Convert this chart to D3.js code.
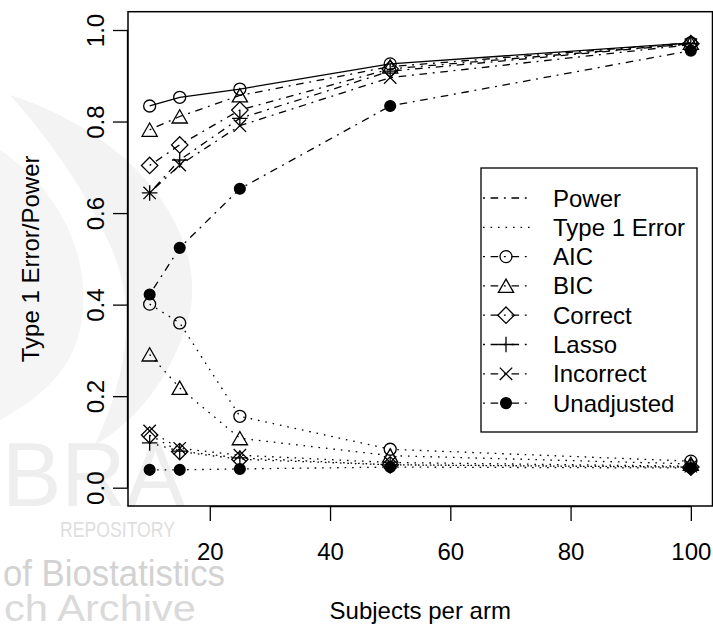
<!DOCTYPE html>
<html>
<head>
<meta charset="utf-8">
<script src="https://cdn.jsdelivr.net/npm/d3@7"></script>
<style>
  html, body { margin: 0; padding: 0; background: #ffffff; }
  svg { display: block; }
  text { font-family: "Liberation Sans", Arial, Helvetica, sans-serif; }
</style>
</head>
<body>
<svg id="chart" width="713" height="626"></svg>
<script>
// Sample sizes per arm
const subjects = [10, 15, 25, 50, 100];

// Power by adjustment method
const powerAIC        = [0.834, 0.853, 0.871, 0.926, 0.972];
const powerBIC        = [0.782, 0.811, 0.857, 0.920, 0.972];
const powerCorrect    = [0.704, 0.749, 0.825, 0.915, 0.970];
const powerLasso      = [0.644, 0.716, 0.807, 0.910, 0.970];
const powerIncorrect  = [0.644, 0.705, 0.791, 0.896, 0.968];
const powerUnadjusted = [0.422, 0.524, 0.653, 0.834, 0.955];

// Type 1 error by adjustment method
const type1AIC        = [0.401, 0.360, 0.156, 0.084, 0.058];
const type1BIC        = [0.291, 0.218, 0.108, 0.070, 0.052];
const type1Correct    = [0.115, 0.079, 0.062, 0.050, 0.045];
const type1Lasso      = [0.098, 0.080, 0.065, 0.050, 0.045];
const type1Incorrect  = [0.124, 0.086, 0.071, 0.055, 0.047];
const type1Unadjusted = [0.039, 0.039, 0.041, 0.045, 0.043];

const methodNames = ["AIC", "BIC", "Correct", "Lasso", "Incorrect", "Unadjusted"];
const methodShapes = ["circle", "triangle", "diamond", "plus", "times", "dot"];
const powerSeries = [powerAIC, powerBIC, powerCorrect, powerLasso, powerIncorrect, powerUnadjusted];
const type1Series = [type1AIC, type1BIC, type1Correct, type1Lasso, type1Incorrect, type1Unadjusted];

const xTicks = [20, 40, 60, 80, 100];
const yTicks = [0, 0.2, 0.4, 0.6, 0.8, 1.0];
const yTickLabels = ["0.0", "0.2", "0.4", "0.6", "0.8", "1.0"];

const legendLabels = ["Power", "Type 1 Error", "AIC", "BIC", "Correct", "Lasso", "Incorrect", "Unadjusted"];

const svg = d3.select("#chart");
const FS = 24;

// Plot region (base-graphics style: 4% padding around the data range)
const box = { left: 128, right: 712.5, top: 11.7, bottom: 506 };
const x = d3.scaleLinear().domain([6.4, 103.6]).range([box.left, box.right]);
const y = d3.scaleLinear().domain([-0.04, 1.04]).range([box.bottom, box.top]);

const DOTDASH = "1.9,5.7,7.6,5.7";
const DOTTED = "1.6,5.9";
const LW = 1.3;

// ---- faint archive watermark ----
const wm = svg.append("g").attr("class", "watermark");
wm.append("path")
  .attr("d", "M 10,95 C 150,140 215,250 185,330 C 160,400 120,430 95,445 C 125,380 140,310 110,245 C 85,190 50,140 10,95 Z")
  .attr("fill", "#f3f3f3");
wm.append("path")
  .attr("d", "M 0,150 C 60,190 95,260 80,330 C 70,370 45,395 0,420 Z")
  .attr("fill", "#f5f5f5");
function wmText(str, px, py, size, color, len) {
  wm.append("text").attr("x", px).attr("y", py).attr("font-size", size)
    .attr("fill", color).attr("textLength", len)
    .attr("lengthAdjust", "spacingAndGlyphs").text(str);
}
wmText("BRA", 2, 506, 90, "#eeeeee", 183);
wmText("REPOSITORY", 60, 537, 22, "#dedede", 115);
wmText("of Biostatistics", 3, 586, 36, "#d2d2d2", 222);
wmText("ch Archive", 4, 621, 36, "#dadada", 192);

// ---- marker shapes ----
function markerPath(shape) {
  switch (shape) {
    case "circle":   return d3.symbol(d3.symbolCircle, Math.PI * 6 * 6)();
    case "dot":      return d3.symbol(d3.symbolCircle, Math.PI * 5.4 * 5.4)();
    case "triangle": return "M0,-6.8L7.6,6.5L-7.6,6.5Z";
    case "diamond":  return "M0,-8.2L8.2,0L0,8.2L-8.2,0Z";
    case "plus":     return "M-7.8,0H7.8M0,-7.8V7.8";
    case "times":    return "M-6.2,-6.2L6.2,6.2M-6.2,6.2L6.2,-6.2";
  }
}
function drawMarker(g, shape, px, py) {
  g.append("path")
    .attr("d", markerPath(shape))
    .attr("transform", `translate(${px},${py})`)
    .attr("fill", shape === "dot" ? "#000" : "none")
    .attr("stroke", "#000")
    .attr("stroke-width", LW);
}

const line = d3.line().x((d, i) => x(subjects[i])).y(d => y(d));
const plot = svg.append("g");

// power curves (AIC drawn solid, others dot-dash)
powerSeries.forEach((vals, k) => {
  plot.append("path")
    .attr("d", line(vals))
    .attr("fill", "none")
    .attr("stroke", "#000")
    .attr("stroke-width", LW)
    .attr("stroke-dasharray", k === 0 ? null : DOTDASH);
});
// type 1 error curves (dotted)
type1Series.forEach(vals => {
  plot.append("path")
    .attr("d", line(vals))
    .attr("fill", "none")
    .attr("stroke", "#000")
    .attr("stroke-width", LW)
    .attr("stroke-dasharray", DOTTED);
});
// markers
[powerSeries, type1Series].forEach(series => {
  series.forEach((vals, k) => {
    vals.forEach((v, i) => drawMarker(plot, methodShapes[k], x(subjects[i]), y(v)));
  });
});

// ---- plot frame ----
svg.append("rect")
  .attr("x", box.left).attr("y", box.top)
  .attr("width", box.right - box.left).attr("height", box.bottom - box.top)
  .attr("fill", "none").attr("stroke", "#000").attr("stroke-width", 1.5);

// ---- axes ----
const xAxis = d3.axisBottom(x).tickValues(xTicks).tickSize(15).tickPadding(0)
  .tickFormat(d3.format("d"));
const gx = svg.append("g").attr("transform", `translate(0,${box.bottom})`).call(xAxis);
gx.select(".domain")
  .attr("d", `M${x(xTicks[0])},0.5H${x(xTicks[xTicks.length - 1])}`)
  .attr("stroke-width", 1.3);
gx.selectAll(".tick line").attr("stroke-width", 1.3);
gx.selectAll(".tick text")
  .attr("font-size", FS).attr("font-family", "Liberation Sans, Arial, sans-serif")
  .attr("fill", "#000").attr("dy", null).attr("y", 54);

const yAxis = d3.axisLeft(y).tickValues(yTicks).tickSize(15).tickPadding(0)
  .tickFormat((d, i) => yTickLabels[i]);
const gy = svg.append("g").attr("transform", `translate(${box.left},0)`).call(yAxis);
gy.select(".domain")
  .attr("d", `M-0.5,${y(yTicks[0])}V${y(yTicks[yTicks.length - 1])}`)
  .attr("stroke-width", 1.3);
gy.selectAll(".tick line").attr("stroke-width", 1.3);
gy.selectAll(".tick text")
  .attr("font-size", FS).attr("font-family", "Liberation Sans, Arial, sans-serif")
  .attr("fill", "#000")
  .attr("x", null).attr("dy", null)
  .attr("text-anchor", "middle")
  .attr("transform", "translate(-24,0) rotate(-90)");

// axis titles
svg.append("text")
  .attr("x", (box.left + box.right) / 2).attr("y", 619)
  .attr("text-anchor", "middle").attr("font-size", FS)
  .text("Subjects per arm");
svg.append("text")
  .attr("transform", `translate(39,${(box.top + box.bottom) / 2}) rotate(-90)`)
  .attr("text-anchor", "middle").attr("font-size", FS)
  .text("Type 1 Error/Power");

// ---- legend ----
const lg = svg.append("g");
lg.append("rect")
  .attr("x", 481).attr("y", 168).attr("width", 216).attr("height", 264)
  .attr("fill", "#fff").attr("stroke", "#000").attr("stroke-width", 1.3);
const rowY = i => 198 + i * 29.3;
legendLabels.forEach((lab, i) => {
  const yy = rowY(i);
  lg.append("line")
    .attr("x1", 483).attr("x2", 531).attr("y1", yy).attr("y2", yy)
    .attr("stroke", "#000").attr("stroke-width", LW)
    .attr("stroke-dasharray", i === 1 ? DOTTED : DOTDASH);
  if (i >= 2) drawMarker(lg, methodShapes[i - 2], 506, yy);
  lg.append("text")
    .attr("x", 553).attr("y", yy + 8.5)
    .attr("font-size", FS)
    .text(lab);
});
</script>
</body>
</html>
